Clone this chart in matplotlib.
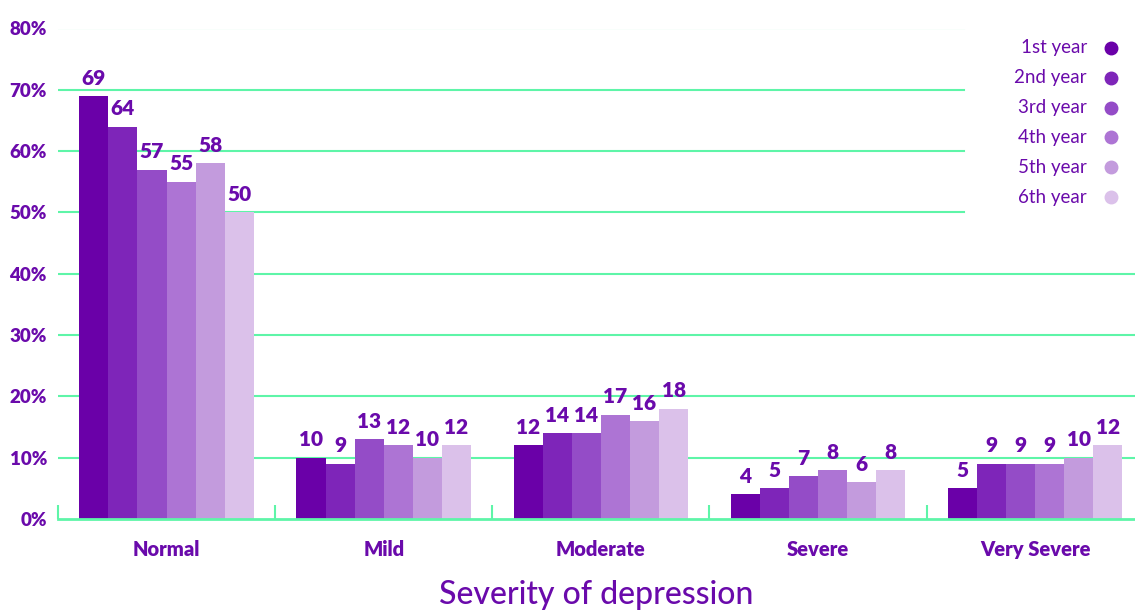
import matplotlib.pyplot as plt
import numpy as np

categories = ["Normal", "Mild", "Moderate", "Severe", "Very Severe"]
years = ["1st year", "2nd year", "3rd year", "4th year", "5th year", "6th year"]
values = {
    "1st year": [69, 10, 12, 4, 5],
    "2nd year": [64, 9, 14, 5, 9],
    "3rd year": [57, 13, 14, 7, 9],
    "4th year": [55, 12, 17, 8, 9],
    "5th year": [58, 10, 16, 6, 10],
    "6th year": [50, 12, 18, 8, 12],
}
y_ticks = [0, 10, 20, 30, 40, 50, 60, 70, 80]

colors = ["#6a00a8", "#7e25b9", "#944cc7", "#ad74d4", "#c39bdd", "#dbc1ea"]
purple = "#6a0aab"
green = "#5ef5a8"

plt.rcParams["font.family"] = ["Lato", "DejaVu Sans"]

fig = plt.figure(figsize=(11.35, 6.10), dpi=100)
W, H = 1135, 610
ax = fig.add_axes([58 / W, 1 - 519 / H, 1077 / W, (519 - 28.5) / H])

x = np.arange(len(categories))
bar_w = 0.134
n = len(years)
for i, yr in enumerate(years):
    pos = x + (i - (n - 1) / 2) * bar_w
    bars = ax.bar(pos, values[yr], width=bar_w, color=colors[i], zorder=3)
    for b, v in zip(bars, values[yr]):
        ax.annotate(str(v), (b.get_x() + b.get_width() / 2, v),
                    xytext=(0, 6), textcoords="offset points",
                    ha="center", va="bottom", fontsize=15,
                    fontweight="heavy", color=purple)

ax.set_xlim(-0.5, 4.46)
ax.set_ylim(0, 80)

# gridlines: upper ones stop short of the legend
for t in y_ticks[1:]:
    xmax = (964 - 58) / 1077 if t >= 50 else 1
    ax.axhline(t, xmin=0, xmax=xmax, color=green, lw=1.5, zorder=1)

for s in ["top", "right", "left"]:
    ax.spines[s].set_visible(False)
ax.spines["bottom"].set_color(green)
ax.spines["bottom"].set_linewidth(2)
ax.spines["bottom"].set_zorder(4)

ax.set_yticks(y_ticks)
ax.set_yticklabels([f"{t}%" for t in y_ticks])
ax.tick_params(axis="y", length=0, pad=8, labelsize=13.5, labelcolor=purple)
for lbl in ax.get_yticklabels():
    lbl.set_fontweight("heavy")

ax.set_xticks(x)
ax.set_xticklabels(categories)
ax.tick_params(axis="x", length=0, pad=15, labelsize=14.5, labelcolor=purple)
for lbl in ax.get_xticklabels():
    lbl.set_fontweight("heavy")
ax.set_xticks(np.arange(-0.5, 4.0, 1.0), minor=True)
ax.tick_params(axis="x", which="minor", direction="in", length=10,
               width=1.5, color=green)

ax.set_xlabel("Severity of depression", fontsize=23, color=purple,
              labelpad=15, fontweight="medium")

# legend on the right, text right-aligned, dot after the text
for i, yr in enumerate(years):
    yy = 1 - (48 + i * 29.8) / H
    fig.text(1087 / W, yy, yr, ha="right", va="center", fontsize=13.5, color=purple)
    fig.add_artist(plt.Line2D([1111 / W], [yy], marker="o", markersize=9,
                              color=colors[i], transform=fig.transFigure))

fig.savefig("out.png", dpi=100)
